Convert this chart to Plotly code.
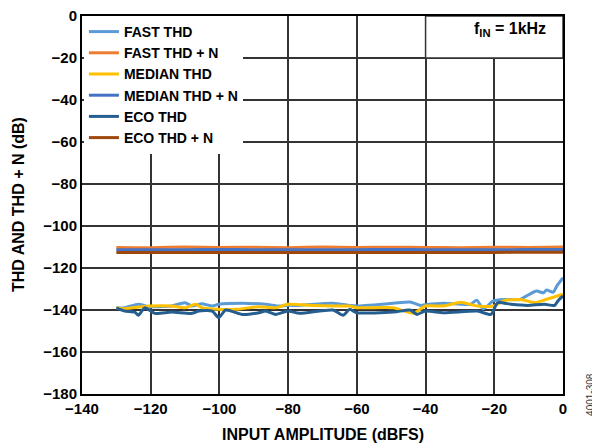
import plotly.graph_objects as go

# ---------------- data ----------------
fast_thd_x = [-130, -127.6, -123.6, -120.5, -117.8, -113.9, -110, -108, -105.1, -102.1, -100.2,
              -93.3, -86.5, -82.6, -80.1, -76.7, -67, -62.1, -60.1, -49.4, -44.5, -41.5, -40.1,
              -34.7, -27, -25.1, -23.2, -20.3, -17, -12.5, -10.6, -7.7, -5.7, -4.8, -2.8, -1.8, 0]
fast_thd_y = [-139.0, -138.9, -137.3, -138.4, -138.4, -138.1, -136.5, -138.1, -137.0, -138.1, -137.3,
              -136.8, -137.3, -138.1, -137.8, -137.8, -136.8, -137.8, -138.1, -136.8, -136.2, -137.8, -137.5,
              -136.8, -137.3, -135.3, -139.5, -135.7, -135.0, -135.0, -133.3, -131.0, -131.8, -130.5, -131.5, -128.6, -124.6]

median_thd_x = [-130, -127.6, -120.5, -113.9, -110, -107, -105.1, -100.2, -95.3, -88.5, -83.6, -80.1,
                -72.8, -67, -62.1, -60.1, -49.4, -43.5, -40.1, -34.7, -29.8, -24.9, -20.3, -17, -12.5,
                -8, -5, -1, 0]
median_thd_y = [-139.0, -139.4, -138.1, -138.1, -138.9, -137.3, -138.9, -139.7, -139.7, -138.4, -138.9, -137.3,
                -137.8, -138.1, -138.1, -138.9, -138.9, -141.6, -138.1, -138.1, -136.3, -138.1, -138.1, -135.5, -135.0,
                -136.5, -135.0, -133.0, -132.5]

eco_thd_x = [-130, -127.6, -124.6, -123.6, -121.7, -118.8, -113.9, -108, -106, -102.1, -100.2, -98.2,
             -93.3, -88.5, -86.5, -83.6, -80.1, -76.7, -67, -64, -62.1, -60.1, -49.4, -44.5, -42.5,
             -40.1, -34.7, -24.9, -21, -19, -15.1, -10.3, -5.4, -2.4, -1.5, 0]
eco_thd_y = [-139.0, -140.5, -141.0, -142.5, -138.9, -141.6, -141.0, -141.6, -140.5, -140.5, -143.7, -140.0,
             -142.1, -141.3, -140.5, -142.1, -140.5, -141.6, -140.0, -142.5, -139.7, -141.3, -141.0, -140.0, -142.1,
             -140.5, -141.3, -140.5, -142.1, -136.5, -137.3, -137.8, -137.3, -137.8, -135.7, -133.3]

thdn_x = [-130, -120, -110, -100, -90, -80, -70, -60, -50, -40, -30, -20, -10, 0]
fast_thdn_y = [-110.2, -110.3, -110.0, -110.2, -110.1, -110.3, -110.0, -110.2, -110.1, -110.2, -110.3, -110.1, -110.2, -110.0]
median_thdn_y = [-111.3, -111.3, -111.3, -111.2, -111.3, -111.3, -111.3, -111.3, -111.2, -111.3, -111.3, -111.3, -111.2, -111.2]
eco_thdn_y = [-112.6, -112.6, -112.6, -112.6, -112.6, -112.6, -112.6, -112.6, -112.6, -112.6, -112.6, -112.6, -112.5, -112.5]

x_ticks = [-140, -120, -100, -80, -60, -40, -20, 0]
x_labels = ["\u2212140", "\u2212120", "\u2212100", "\u221280", "\u221260", "\u221240", "\u221220", "0"]
y_ticks = [0, -20, -40, -60, -80, -100, -120, -140, -160, -180]
y_labels = ["0", "\u221220", "\u221240", "\u221260", "\u221280", "\u2212100", "\u2212120", "\u2212140", "\u2212160", "\u2212180"]

FONT = "Arial, Liberation Sans, sans-serif"

series = [
    ("FAST THD", fast_thd_x, fast_thd_y, "#5B9BD5"),
    ("FAST THD + N", thdn_x, fast_thdn_y, "#ED7D31"),
    ("MEDIAN THD", median_thd_x, median_thd_y, "#FFC000"),
    ("MEDIAN THD + N", thdn_x, median_thdn_y, "#4472C4"),
    ("ECO THD", eco_thd_x, eco_thd_y, "#255E91"),
    ("ECO THD + N", thdn_x, eco_thdn_y, "#9E480E"),
]

fig = go.Figure()
for name, xs, ys, col in series:
    fig.add_trace(go.Scatter(x=xs, y=ys, mode="lines", name="<b>%s</b>" % name,
                             line=dict(color=col, width=3, shape="spline", smoothing=0.6)))

GRID = "#333333"
fig.add_shape(type="rect", xref="x", yref="y", x0=-40, x1=0, y0=-20, y1=0,
              fillcolor="white", line=dict(color=GRID, width=1.5), layer="between")

fig.add_annotation(xref="paper", yref="paper", x=0.969, y=0.963, xanchor="right", yanchor="middle",
                   text="<b>f<sub>IN</sub> = 1kHz</b>", showarrow=False,
                   font=dict(family=FONT, size=16, color="black"))
fig.add_annotation(xref="paper", yref="paper", x=1.056, y=0.0, xanchor="center", yanchor="middle",
                   text="4001-308", textangle=-90, showarrow=False,
                   font=dict(family=FONT, size=10, color="#333333"))
fig.add_annotation(xref="paper", yref="paper", x=-0.133, y=0.5, xanchor="center", yanchor="middle",
                   text="<b>THD AND THD + N (dB)</b>", textangle=-90, showarrow=False,
                   font=dict(family=FONT, size=16, color="black"))
fig.add_annotation(xref="paper", yref="paper", x=0.5, y=-0.106, xanchor="center", yanchor="middle",
                   text="<b>INPUT AMPLITUDE (dBFS)</b>", showarrow=False,
                   font=dict(family=FONT, size=16, color="black"))

# page body has an 8px margin, so the figure is drawn 8px smaller and offset
fig.update_layout(
    width=592, height=436,
    margin=dict(l=74, r=37, t=8, b=50, autoexpand=False),
    paper_bgcolor="white", plot_bgcolor="white",
    font=dict(family=FONT, size=14, color="black"),
    showlegend=True,
    legend=dict(x=0.004, y=1.0, xanchor="left", yanchor="top", bgcolor="white",
                borderwidth=0, font=dict(family=FONT, size=14, color="black"),
                tracegroupgap=0),
    xaxis=dict(range=[-140, 0], tickvals=x_ticks, ticktext=["<b>%s</b>" % t for t in x_labels],
               showgrid=True, gridcolor=GRID, gridwidth=1.5, zeroline=False, automargin=False,
               showline=True, linecolor="black", linewidth=2, mirror=True,
               ticks="", tickfont=dict(family=FONT, size=15), ticklabeloverflow="allow"),
    yaxis=dict(range=[-180, 0], tickvals=y_ticks, ticktext=["<b>%s</b>" % t for t in y_labels],
               showgrid=True, gridcolor=GRID, gridwidth=1.5, zeroline=False, automargin=False,
               showline=True, linecolor="black", linewidth=2, mirror=True,
               ticks="", tickfont=dict(family=FONT, size=15), ticklabeloverflow="allow"),
)

fig.write_html("out.html")
